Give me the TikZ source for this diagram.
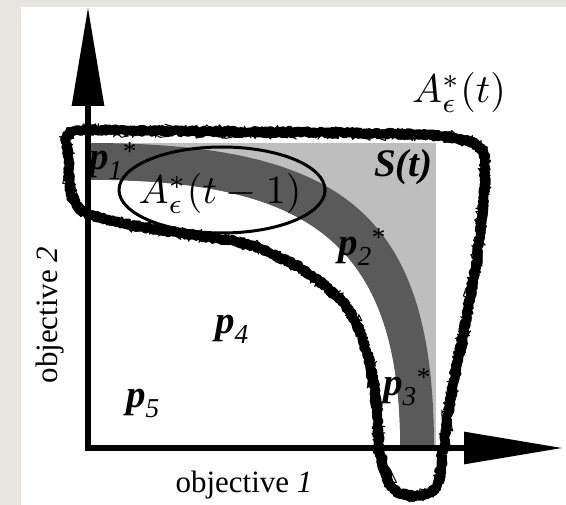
\documentclass[tikz,border=0pt]{standalone}
\usepackage{fontspec}
\setmainfont{Liberation Serif}
\usetikzlibrary{arrows.meta, shapes.geometric, decorations.pathmorphing}

\definecolor{paper}{HTML}{E8E6E0}
\definecolor{sregion}{HTML}{BEBEBE}
\definecolor{front}{HTML}{5A5A5A}

\newcommand{\pname}[1]{\textbf{\textit{p}}\textsubscript{\textit{#1}}}

\begin{document}
\begin{tikzpicture}[
    x=1pt, y=-1pt,
    axis/.style={line width=6pt, -{Triangle[length=99pt, width=31pt]}},
    plab/.style={anchor=base west, inner sep=0pt, font=\fontsize{39}{41}\selectfont},
    olab/.style={anchor=base, inner sep=0pt, font=\fontsize{31}{33}\selectfont},
    amath/.style={anchor=base, inner sep=0pt, scale=4},
    scribble/.style 2 args={line width=#1, line join=round, line cap=round, decorate,
        decoration={random steps, segment length=2pt, amplitude=#2}}
]
\useasboundingbox (0,0) rectangle (566,505);
\pgfmathsetseed{7}

% page
\fill[paper] (0,0) rectangle (566,505);
\fill[white] (21,7) rectangle (566,505);

% region S(t) and the front band
\fill[sregion] (88,143) rectangle (436,448);
\fill[front] (88,143) .. controls (345,143) and (434,215) .. (434,448)
    -- (400,448) .. controls (400,240) and (305,180) .. (88,180) -- cycle;
\fill[white] (88,180) .. controls (305,180) and (400,240) .. (400,448)
    -- (88,448) -- cycle;

% previous archive
\node[draw, ellipse, line width=3pt, minimum width=206pt, minimum height=86pt] (ell) at (222,190) {};
\node[amath] (aprev) at (220,204) {$A^*_\epsilon(t-1)$};

% labels
\node[plab] (st) at (374,177) {\textbf{\textit{S(t)}}};
\node[plab] (p1) at (89,170) {\pname{1}\textsuperscript{*}};
\node[plab] (p2) at (338,256) {\pname{2}\textsuperscript{*}};
\node[plab] (p3) at (383,396) {\pname{3}\textsuperscript{*}};
\node[plab] (p4) at (215,334) {\pname{4}};
\node[plab] (p5) at (126,408) {\pname{5}};
\node[amath] (anow) at (459,103) {$A^*_\epsilon(t)$};

% current archive, drawn by hand
\foreach \w/\a in {9pt/1.5pt, 6pt/3pt, 3pt/5pt, 1pt/7pt}
  \draw[scribble={\w}{\a}] plot[smooth cycle, tension=0.55] coordinates {
    (72,132) (150,131) (250,132) (350,133) (440,136) (479,147) (485,175)
    (478,250) (466,320) (452,390) (443,450) (437,486) (415,496) (391,486)
    (380,450) (376,400) (366,350) (345,305) (300,268) (250,245) (200,236)
    (130,225) (88,213) (72,197) (69,160)};

% axes
\coordinate (origin) at (88,448);
\coordinate (ytip) at (88,7);
\coordinate (xtip) at (563,448);
\draw[axis] ([yshift=-3pt]origin) -- (ytip);
\draw[axis] ([xshift=-3pt]origin) -- (xtip);

\node[olab] (xlabel) at (244,493) {objective \textit{1}};
\node[olab, rotate=90] (ylabel) at (57,315) {objective \textit{2}};
\end{tikzpicture}
\end{document}
